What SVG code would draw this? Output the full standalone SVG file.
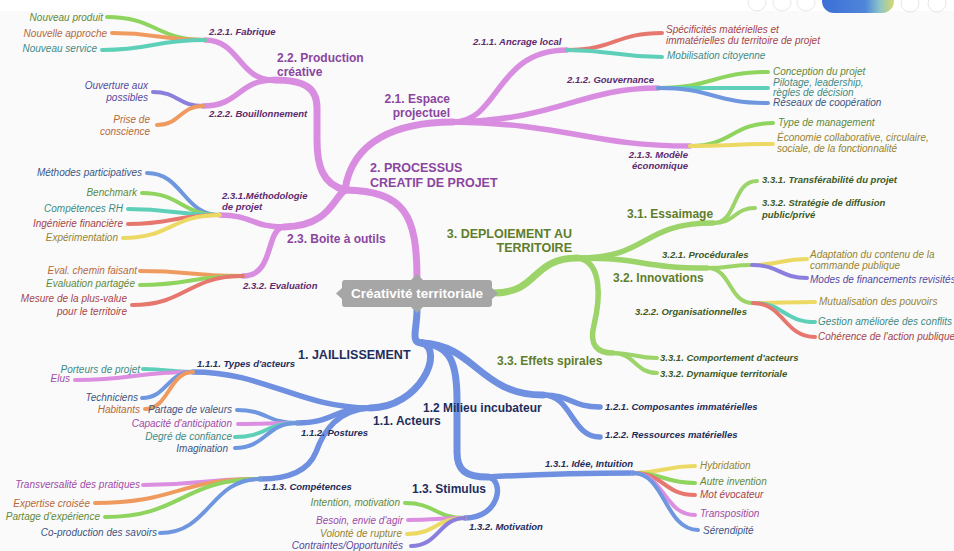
<svg xmlns="http://www.w3.org/2000/svg" width="954" height="551" viewBox="0 0 954 551">
<defs>
<linearGradient id="pill" x1="0" x2="1" y1="0" y2="0">
<stop offset="0" stop-color="#3b6fd6"/><stop offset="0.6" stop-color="#4f86da"/><stop offset="0.8" stop-color="#8cc4c8"/><stop offset="1" stop-color="#d6d96a"/>
</linearGradient>
</defs>
<style>
text{font-family:"Liberation Sans",Arial,sans-serif}
.t1{font-weight:bold;font-size:12.5px}
.t2{font-weight:bold;font-size:12px}
.t3{font-weight:bold;font-style:italic;font-size:9.5px}
.lf{font-style:italic;font-size:10px}
.e{text-anchor:end}
.p1{fill:#8a45a0}.p3{fill:#5e2a70}
.g1{fill:#5f7d2a}.g3{fill:#3d5a1e}
.b1{fill:#1f2d5c}.b3{fill:#1f2d5c}
.cg{fill:#5f8a3a}.co{fill:#b5693a}.ct{fill:#3f8a84}.cr{fill:#a5454a}.cy{fill:#958433}.cp{fill:#5548a0}.cpk{fill:#a04aa8}.cb{fill:#3c5585}
path{fill:none;stroke-linecap:round}
.w1{stroke-width:7}.w2{stroke-width:5.5}.w3{stroke-width:4}
.sP{stroke:#d98de0}.sG{stroke:#9cd46a}.sB{stroke:#6f8fe0}
.lg{stroke:#8fd45e}.lo{stroke:#ef9b5f}.lt{stroke:#5ecfb9}.lr{stroke:#e5776f}.ly{stroke:#ecd964}.lp{stroke:#8a7fdc}.lpk{stroke:#dc8ee0}.lb{stroke:#6f97e0}
</style>
<rect x="0" y="0" width="954" height="551" fill="#fafafa"/>
<rect x="0" y="0" width="954" height="11" fill="#ffffff"/>
<g id="toolbar">
<circle cx="757" cy="2" r="9" fill="none" stroke="#e6e6e6"/>
<circle cx="782" cy="2" r="9" fill="none" stroke="#e6e6e6"/>
<circle cx="806" cy="2" r="9" fill="none" stroke="#e6e6e6"/>
<rect x="822" y="-12" width="72" height="25" rx="12" fill="url(#pill)"/>
<circle cx="910" cy="3" r="9" fill="none" stroke="#e6e6e6"/>
<circle cx="937" cy="3" r="9" fill="none" stroke="#e6e6e6"/>
</g>
<g id="connectors">
<g class="sP">
<path class="w1" d="M417,279 C417,215 405,191 345,190"/>
<path class="w1" d="M345,190 C352,140 398,122 453,122"/>
<path class="w1" d="M345,190 C322,184 317,165 317,140 L317,108 C317,88 305,80 274,80"/>
<path class="w1" d="M345,190 C333,198 330,226 284,227"/>
<path class="w2" d="M453,122 C500,122 495,50 567,50"/>
<path class="w2" d="M453,122 C560,120 580,88 658,88"/>
<path class="w2" d="M453,122 C570,124 590,146 690,146"/>
<path class="w2" d="M274,80 C238,80 240,40 205,40"/>
<path class="w2" d="M274,80 C238,80 240,106 203,106"/>
<path class="w2" d="M284,227 C252,227 252,215 220,215"/>
<path class="w2" d="M284,227 C265,229 275,276 243,276"/>
</g>
<g>
<path class="w3 lr" d="M567,50 C615,50 615,33 662,33"/>
<path class="w3 lt" d="M567,50 C615,50 615,57 662,57"/>
<path class="w3 lg" d="M658,88 C713,88 713,72 768,72"/>
<path class="w3 lt" d="M658,88 L768,88"/>
<path class="w3 lb" d="M658,88 C713,88 713,103 768,103"/>
<path class="w3 lg" d="M690,146 C732,146 732,123 773,123"/>
<path class="w3 ly" d="M690,146 C732,146 732,144 773,144"/>
<path class="w3 lg" d="M205,40 C156,40 156,17 107,17"/>
<path class="w3 lo" d="M205,40 C158,40 158,33 112,33"/>
<path class="w3 lt" d="M205,40 C153,40 153,50 102,50"/>
<path class="w3 lp" d="M203,106 C178,106 178,92 153,92"/>
<path class="w3 lo" d="M203,106 C180,106 180,125 157,125"/>
<path class="w3 lb" d="M220,215 C183,215 183,173 147,173"/>
<path class="w3 lg" d="M220,215 C181,215 181,193 142,193"/>
<path class="w3 lt" d="M220,215 C174,215 174,209 128,209"/>
<path class="w3 lr" d="M220,215 C174,215 174,224 128,224"/>
<path class="w3 ly" d="M220,215 C171,215 171,238 123,238"/>
<path class="w3 lo" d="M243,276 C191,276 191,271 140,271"/>
<path class="w3 lg" d="M243,276 C191,276 191,285 140,285"/>
<path class="w3 lr" d="M243,276 C187,276 187,305 132,305"/>
</g>
<g class="sG">
<path class="w1" d="M493,293 C540,293 530,258 578,258"/>
<path class="w2" d="M578,258 C650,258 640,223 713,223"/>
<path class="w2" d="M578,258 C645,258 640,268 707,268"/>
<path class="w2" d="M578,258 C603,262 600,300 594,325 C589,345 597,353 613,353"/>
<path class="w3" d="M713,223 C738,223 732,181 757,181"/>
<path class="w3" d="M713,223 C736,223 734,208 755,208"/>
<path class="w3" d="M707,268 C730,268 730,265 752,265"/>
<path class="w3" d="M707,268 C732,268 728,303 753,303"/>
<path class="w3" d="M613,353 C635,353 635,358 657,358"/>
<path class="w3" d="M613,353 C635,353 635,373 657,373"/>
</g>
<g>
<path class="w3 ly" d="M752,265 C780,265 780,259 807,259"/>
<path class="w3 lp" d="M752,265 C780,265 780,278 807,278"/>
<path class="w3 ly" d="M753,303 C784,303 784,302 815,302"/>
<path class="w3 lt" d="M753,303 C784,303 784,322 815,322"/>
<path class="w3 lr" d="M753,303 C784,303 784,337 815,337"/>
</g>
<g class="sB">
<path class="w1" d="M417,310 C417,330 410,343 422,343"/>
<path class="w1" d="M422,343 C445,350 420,408 370,408"/>
<path class="w1" d="M422,343 C475,345 480,395 543,395"/>
<path class="w1" d="M422,343 C450,345 457,362 457,400 L457,452 C457,470 465,477 488,477"/>
<path class="w2" d="M370,408 C300,408 265,372 193,372"/>
<path class="w2" d="M370,408 C333,408 334,423 297,423"/>
<path class="w2" d="M370,408 C338,410 324,430 316,452 C308,472 288,479 260,479"/>
<path class="w2" d="M543,395 C572,395 571,407 600,407"/>
<path class="w2" d="M543,395 C572,395 571,437 600,437"/>
<path class="w2" d="M488,477 C540,474 580,473 633,473"/>
<path class="w2" d="M488,477 C505,480 500,518 465,518"/>
</g>
<g>
<path class="w3 lt" d="M193,372 C168,372 168,369 143,369"/>
<path class="w3 lpk" d="M193,372 C134,372 134,380 75,380"/>
<path class="w3 lb" d="M193,372 C167,372 167,398 142,398"/>
<path class="w3 lo" d="M193,372 C169,372 169,409 145,409"/>
<path class="w3 lb" d="M297,423 C267,423 267,410 237,410"/>
<path class="w3 lpk" d="M297,423 C267,423 267,424 238,424"/>
<path class="w3 lt" d="M297,423 C266,423 266,437 235,437"/>
<path class="w3 lb" d="M297,423 C266,423 266,448 235,448"/>
<path class="w3 lpk" d="M260,479 C201,479 201,485 143,485"/>
<path class="w3 lo" d="M260,479 C177,479 177,503 95,503"/>
<path class="w3 lg" d="M260,479 C182,479 182,517 105,517"/>
<path class="w3 lb" d="M260,479 C210,479 210,533 160,533"/>
<path class="w3 ly" d="M633,473 C664,473 664,466 695,466"/>
<path class="w3 lg" d="M633,473 C664,473 664,483 695,483"/>
<path class="w3 lr" d="M633,473 C664,473 664,495 695,495"/>
<path class="w3 lpk" d="M633,473 C664,473 664,515 695,515"/>
<path class="w3 lb" d="M633,473 C665,473 665,530 698,530"/>
<path class="w3 lg" d="M465,518 C435,518 435,503 405,503"/>
<path class="w3 lpk" d="M465,518 C436,518 436,520 408,520"/>
<path class="w3 ly" d="M465,518 C436,518 436,534 407,534"/>
<path class="w3 lp" d="M465,518 C439,518 439,546 411,546"/>
</g>
</g>
<g id="root">
<rect x="342" y="280" width="150" height="27" rx="3" fill="#a6a6a6"/>
<polygon points="342,288 336,293.5 342,299" fill="#a6a6a6"/>
<polygon points="411,280 417,274 423,280" fill="#a6a6a6"/>
<polygon points="411,307 417,313 423,307" fill="#a6a6a6"/>
<polygon points="492,288 498,293.5 492,299" fill="#a6a6a6"/>
<text x="417" y="298" text-anchor="middle" fill="#ffffff" style="font-weight:bold;font-size:13.5px">Créativité territoriale</text>
</g>
<g id="n2"><text class="t1 p1" x="370" y="172">2. PROCESSUS</text><text class="t1 p1" x="370" y="187">CREATIF DE PROJET</text></g>
<g id="n21"><text class="t2 p1 e" x="450" y="103">2.1. Espace</text><text class="t2 p1 e" x="450" y="117">projectuel</text></g>
<g id="n22"><text class="t2 p1" x="277" y="62">2.2. Production</text><text class="t2 p1" x="277" y="76">créative</text></g>
<g id="n23"><text class="t2 p1" x="287" y="243">2.3. Boite à outils</text></g>
<g id="n211"><text class="t3 p3" x="473" y="45">2.1.1. Ancrage local</text></g>
<g id="n212"><text class="t3 p3" x="567" y="83">2.1.2. Gouvernance</text></g>
<g id="n213"><text class="t3 p3 e" x="688" y="158">2.1.3. Modèle</text><text class="t3 p3 e" x="688" y="169">économique</text></g>
<g id="n221"><text class="t3 p3" x="209" y="35">2.2.1. Fabrique</text></g>
<g id="n222"><text class="t3 p3" x="209" y="117">2.2.2. Bouillonnement</text></g>
<g id="n231"><text class="t3 p3" x="222" y="199">2.3.1.Méthodologie</text><text class="t3 p3" x="222" y="210">de projet</text></g>
<g id="n232"><text class="t3 p3" x="243" y="289">2.3.2. Evaluation</text></g>
<g id="l2a"><text class="lf cg e" x="103" y="21">Nouveau produit</text></g>
<g id="l2b"><text class="lf co e" x="107" y="37">Nouvelle approche</text></g>
<g id="l2c"><text class="lf ct e" x="97" y="52">Nouveau service</text></g>
<g id="l2d"><text class="lf cp e" x="148" y="89">Ouverture aux</text><text class="lf cp e" x="148" y="101">possibles</text></g>
<g id="l2e"><text class="lf co e" x="150" y="123">Prise de</text><text class="lf co e" x="150" y="135">conscience</text></g>
<g id="l2f"><text class="lf cr" x="666" y="33">Spécificités matérielles et</text><text class="lf cr" x="666" y="44">immatérielles du territoire de projet</text></g>
<g id="l2g"><text class="lf ct" x="667" y="59">Mobilisation citoyenne</text></g>
<g id="l2h"><text class="lf cg" x="773" y="75">Conception du projet</text></g>
<g id="l2i"><text class="lf ct" x="773" y="86">Pilotage, leadership,</text><text class="lf ct" x="773" y="96">règles de décision</text></g>
<g id="l2j"><text class="lf cb" x="773" y="106">Réseaux de coopération</text></g>
<g id="l2k"><text class="lf cg" x="778" y="126">Type de management</text></g>
<g id="l2l"><text class="lf cy" x="777" y="141">Économie collaborative, circulaire,</text><text class="lf cy" x="777" y="152">sociale, de la fonctionnalité</text></g>
<g id="l2m"><text class="lf cb e" x="142" y="176">Méthodes participatives</text></g>
<g id="l2n"><text class="lf cg e" x="137" y="196">Benchmark</text></g>
<g id="l2o"><text class="lf ct e" x="123" y="212">Compétences RH</text></g>
<g id="l2p"><text class="lf cr e" x="123" y="227">Ingénierie financière</text></g>
<g id="l2q"><text class="lf cy e" x="118" y="241">Expérimentation</text></g>
<g id="l2r"><text class="lf co e" x="137" y="274">Eval. chemin faisant</text></g>
<g id="l2s"><text class="lf cg e" x="135" y="287">Evaluation partagée</text></g>
<g id="l2t"><text class="lf cr e" x="127" y="302">Mesure de la plus-value</text><text class="lf cr e" x="127" y="315">pour le territoire</text></g>
<g id="n3"><text class="t1 g1 e" x="572" y="238">3. DEPLOIEMENT AU</text><text class="t1 g1 e" x="572" y="252">TERRITOIRE</text></g>
<g id="n31"><text class="t2 g1" x="627" y="218">3.1. Essaimage</text></g>
<g id="n32"><text class="t2 g1" x="613" y="282">3.2. Innovations</text></g>
<g id="n33"><text class="t2 g1" x="497" y="365">3.3. Effets spirales</text></g>
<g id="n311"><text class="t3 g3" x="762" y="183">3.3.1. Transférabilité du projet</text></g>
<g id="n312"><text class="t3 g3" x="762" y="206">3.3.2. Stratégie de diffusion</text><text class="t3 g3" x="762" y="218">public/privé</text></g>
<g id="n321"><text class="t3 g3" x="662" y="258">3.2.1. Procédurales</text></g>
<g id="n322"><text class="t3 g3" x="635" y="315">3.2.2. Organisationnelles</text></g>
<g id="n331"><text class="t3 g3" x="660" y="361">3.3.1. Comportement d'acteurs</text></g>
<g id="n332"><text class="t3 g3" x="660" y="377">3.3.2. Dynamique territoriale</text></g>
<g id="l3a"><text class="lf cy" x="810" y="258">Adaptation du contenu de la</text><text class="lf cy" x="810" y="269">commande publique</text></g>
<g id="l3b"><text class="lf cp" x="810" y="283">Modes de financements revisités</text></g>
<g id="l3c"><text class="lf cy" x="819" y="305">Mutualisation des pouvoirs</text></g>
<g id="l3d"><text class="lf ct" x="818" y="325">Gestion améliorée des conflits</text></g>
<g id="l3e"><text class="lf cr" x="818" y="340">Cohérence de l'action publique</text></g>
<g id="n1"><text class="t1 b1" x="298" y="359">1. JAILLISSEMENT</text></g>
<g id="n11"><text class="t2 b1" x="373" y="425">1.1. Acteurs</text></g>
<g id="n12"><text class="t2 b1" x="423" y="412">1.2 Milieu incubateur</text></g>
<g id="n13"><text class="t2 b1" x="412" y="493">1.3. Stimulus</text></g>
<g id="n111"><text class="t3 b3" x="197" y="367">1.1.1. Types d'acteurs</text></g>
<g id="n112"><text class="t3 b3" x="301" y="436">1.1.2. Postures</text></g>
<g id="n113"><text class="t3 b3" x="263" y="490">1.1.3. Compétences</text></g>
<g id="n121"><text class="t3 b3" x="605" y="410">1.2.1. Composantes immatérielles</text></g>
<g id="n122"><text class="t3 b3" x="605" y="438">1.2.2. Ressources matérielles</text></g>
<g id="n131"><text class="t3 b3" x="545" y="467">1.3.1. Idée, Intuition</text></g>
<g id="n132"><text class="t3 b3" x="469" y="530">1.3.2. Motivation</text></g>
<g id="l1a"><text class="lf ct e" x="140" y="373">Porteurs de projet</text></g>
<g id="l1b"><text class="lf cpk e" x="70" y="382">Elus</text></g>
<g id="l1c"><text class="lf cb e" x="138" y="401">Techniciens</text></g>
<g id="l1d"><text class="lf co e" x="140" y="413">Habitants</text></g>
<g id="l1e"><text class="lf cb e" x="232" y="413">Partage de valeurs</text></g>
<g id="l1f"><text class="lf cpk e" x="232" y="427">Capacité d'anticipation</text></g>
<g id="l1g"><text class="lf ct e" x="232" y="440">Degré de confiance</text></g>
<g id="l1h"><text class="lf cb e" x="228" y="452">Imagination</text></g>
<g id="l1i"><text class="lf cpk e" x="140" y="488">Transversalité des pratiques</text></g>
<g id="l1j"><text class="lf co e" x="90" y="507">Expertise croisée</text></g>
<g id="l1k"><text class="lf cg e" x="100" y="520">Partage d'expérience</text></g>
<g id="l1l"><text class="lf cb e" x="157" y="536">Co-production des savoirs</text></g>
<g id="l1m"><text class="lf cy" x="700" y="469">Hybridation</text></g>
<g id="l1n"><text class="lf cg" x="700" y="485">Autre invention</text></g>
<g id="l1o"><text class="lf cr" x="700" y="498">Mot évocateur</text></g>
<g id="l1p"><text class="lf cpk" x="700" y="517">Transposition</text></g>
<g id="l1q"><text class="lf cb" x="703" y="534">Sérendipité</text></g>
<g id="l1r"><text class="lf cg e" x="400" y="506">Intention, motivation</text></g>
<g id="l1s"><text class="lf cpk e" x="403" y="524">Besoin, envie d'agir</text></g>
<g id="l1t"><text class="lf cy e" x="402" y="537">Volonté de rupture</text></g>
<g id="l1u"><text class="lf cp e" x="403" y="549">Contraintes/Opportunités</text></g>
</svg>
